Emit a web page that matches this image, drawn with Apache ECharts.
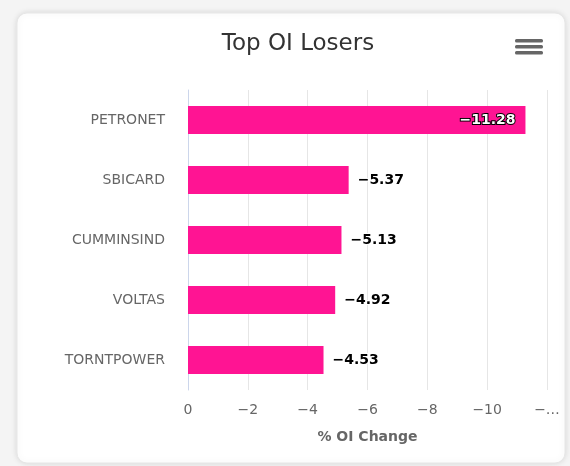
<!DOCTYPE html>
<html>
<head>
<meta charset="utf-8">
<script src="https://cdn.jsdelivr.net/npm/echarts@6/dist/echarts.min.js"></script>
<style>
  html, body { margin: 0; padding: 0; background: #f4f4f4; }
  #main { width: 570px; height: 466px; }
</style>
</head>
<body>
<div id="main"></div>
<script>
var symbols = ['PETRONET', 'SBICARD', 'CUMMINSIND', 'VOLTAS', 'TORNTPOWER'];
var oiChange = [-11.28, -5.37, -5.13, -4.92, -4.53];
var tickMin = -12, tickMax = 0, tickStep = 2;

var myChart = echarts.init(document.getElementById('main'));

function minus(v) {
    return String(v).replace('-', '\u2212');
}

var seriesData = oiChange.map(function (v, i) {
    var item = { value: v };
    if (i === 0) {
        item.label = {
            position: 'insideRight',
            color: '#fff',
            textBorderColor: '#000',
            textBorderWidth: 2,
            distance: 10
        };
    }
    return item;
});

var option = {
    backgroundColor: 'transparent',
    textStyle: { fontFamily: 'DejaVu Sans' },
    graphic: [{
        type: 'rect',
        shape: { x: 17, y: 13, width: 548, height: 450, r: 10 },
        style: { fill: '#fff', stroke: '#e6e6e6', lineWidth: 1, shadowBlur: 6, shadowColor: 'rgba(0,0,0,0.12)' },
        z: -10
    }, {
        type: 'group',
        left: 515,
        top: 39,
        children: [0, 6, 12].map(function (dy) {
            return {
                type: 'rect',
                shape: { x: 0, y: dy, width: 28, height: 3.5, r: 1.5 },
                style: { fill: '#666' }
            };
        })
    }],
    title: {
        text: 'Top OI Losers',
        left: 293,
        textAlign: 'center',
        top: 28,
        textStyle: { fontSize: 23, fontWeight: 'normal', color: '#333', fontFamily: 'DejaVu Sans' }
    },
    grid: { left: 188, right: 23, top: 90, bottom: 76 },
    xAxis: {
        type: 'value',
        min: tickMin,
        max: tickMax,
        interval: tickStep,
        inverse: true,
        name: '% OI Change',
        nameLocation: 'middle',
        nameGap: 40,
        nameTextStyle: { color: '#666', fontWeight: 'bold', fontSize: 14 },
        axisLine: { show: false },
        axisTick: { show: false },
        splitLine: { show: true, lineStyle: { color: '#e6e6e6' } },
        axisLabel: {
            color: '#666',
            fontSize: 14,
            margin: 13,
            formatter: function (v) {
                if (v === tickMin) return '\u2212\u2026';
                return minus(v);
            }
        }
    },
    yAxis: {
        type: 'category',
        data: symbols,
        inverse: true,
        axisLine: { show: true, lineStyle: { color: '#ccd6eb' } },
        axisTick: { show: false },
        axisLabel: { color: '#666', fontSize: 14, margin: 23 }
    },
    series: [{
        type: 'bar',
        data: seriesData,
        barWidth: 28,
        itemStyle: { color: '#ff1493' },
        label: {
            show: true,
            position: 'right',
            distance: 9,
            color: '#000',
            fontWeight: 'bold',
            fontSize: 14,
            textBorderColor: '#fff',
            textBorderWidth: 2,
            formatter: function (p) { return minus(p.value.toFixed(2)); }
        }
    }]
};

myChart.setOption(option);
</script>
</body>
</html>
